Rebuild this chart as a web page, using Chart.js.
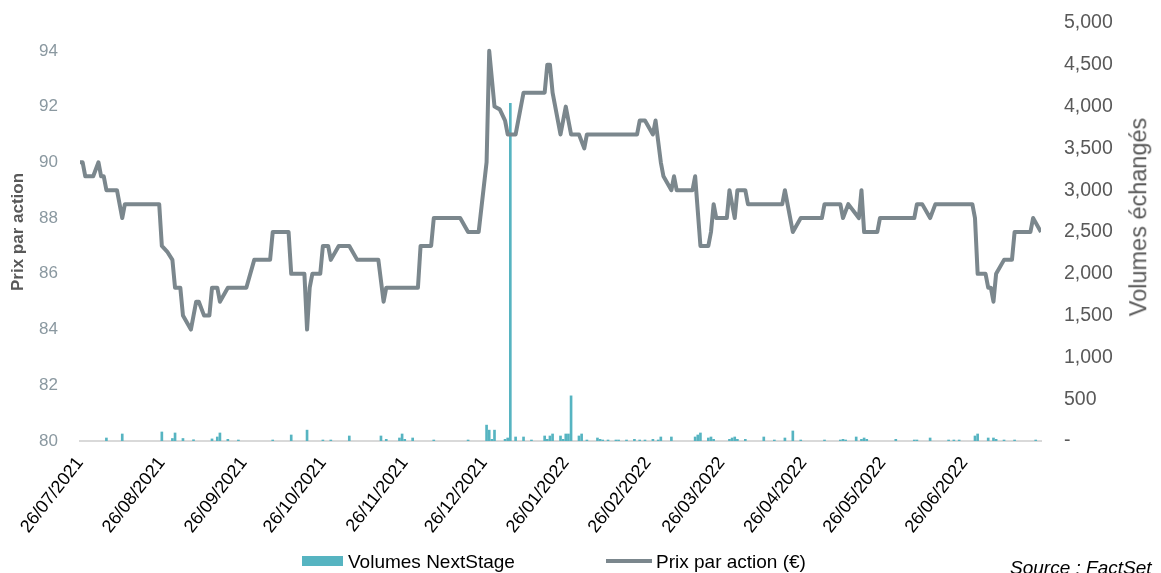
<!DOCTYPE html>
<html>
<head>
<meta charset="utf-8">
<script src="https://cdn.jsdelivr.net/npm/chart.js@4/dist/chart.umd.min.js"></script>
<style>
  body { margin: 0; background: #fff; font-family: 'Liberation Sans', Arial, sans-serif; }
  #wrap { position: relative; width: 1161px; height: 573px; overflow: hidden; }
  .txt { position: absolute; white-space: nowrap; line-height: 1; }
</style>
</head>
<body>
<div id="wrap">
  <canvas id="chart" width="1161" height="573"></canvas>
  <div class="txt" id="rightTitle" style="left:1139px; top:217px; transform:translate(-50%,-50%) rotate(-90deg); font-size:23.5px; color:#595959;">Volumes échangés</div>
  <div style="position:absolute; left:302px; top:556px; width:41px; height:10px; background:#56b4c1;"></div>
  <div class="txt" style="left:348px; top:552px; font-size:19px; color:#000;">Volumes NextStage</div>
  <div style="position:absolute; left:606px; top:559px; width:46px; height:4px; background:#7b878d;"></div>
  <div class="txt" style="left:656px; top:552px; font-size:19px; color:#000;">Prix par action (€)</div>
  <div class="txt" style="left:1010px; top:558px; font-size:19px; font-style:italic; color:#000;">Source : FactSet</div>
</div>
<script>
Chart.defaults.font.family = "'Liberation Sans', Arial, sans-serif";

// jours comptés depuis le 26/07/2021
const tickLabels = ['26/07/2021', '26/08/2021', '26/09/2021', '26/10/2021', '26/11/2021', '26/12/2021',
  '26/01/2022', '26/02/2022', '26/03/2022', '26/04/2022', '26/05/2022', '26/06/2022'];

const priceDays = [0, 1, 2, 5, 7, 8, 9, 10, 14, 16, 17, 30, 31, 33, 35, 36, 38, 39, 42, 44, 45, 47, 49, 50, 52, 53, 56,
  63, 66, 72, 73, 79, 80, 85, 86, 87, 88, 91, 92, 94, 95, 98, 102, 105, 113, 115, 116, 128, 129, 133, 134, 144, 147,
  151, 154, 155, 157, 159, 161, 162, 165, 168, 176, 177, 178, 179, 182, 184, 186, 189, 191, 192, 211, 212, 214, 217,
  218, 220, 221, 224, 225, 226, 232, 233, 235, 238, 239, 240, 241, 245, 246, 248, 249, 252, 253, 266, 267, 268, 270,
  273, 281, 282, 288, 289, 291, 295, 296, 297, 302, 303, 316, 317, 319, 322, 324, 338, 339, 340, 343, 344, 345, 346,
  347, 350, 353, 354, 360, 361, 364];
const priceValues = [90.0, 90.0, 89.5, 89.5, 90.0, 89.5, 89.5, 89.0, 89.0, 88.0, 88.5, 88.5, 87.0, 86.8, 86.5, 85.5, 85.5,
  84.5, 84.0, 85.0, 85.0, 84.5, 84.5, 85.5, 85.5, 85.0, 85.5,
  85.5, 86.5, 86.5, 87.5, 87.5, 86.0, 86.0, 84.0, 85.5, 86.0, 86.0, 87.0, 87.0, 86.5, 87.0, 87.0, 86.5, 86.5, 85.0,
  85.5, 85.5, 87.0, 87.0, 88.0, 88.0, 87.5,
  87.5, 90.0, 94.0, 92.0, 91.9, 91.5, 91.0, 91.0, 92.5, 92.5, 93.5, 93.5, 92.5, 91.0, 92.0, 91.0, 91.0, 90.5, 91.0,
  91.0, 91.5, 91.5, 91.0,
  91.5, 90.0, 89.5, 89.0, 89.5, 89.0, 89.0, 89.5, 87.0, 87.0, 87.5, 88.5, 88.0, 88.0, 89.0, 88.0, 89.0, 89.0, 88.5,
  88.5, 89.0, 88.5, 87.5,
  88.0, 88.0, 88.5, 88.5, 88.0, 88.5, 88.0, 89.0, 87.5, 87.5, 88.0, 88.0, 88.5, 88.5, 88.0, 88.5, 88.5, 88.0, 86.0,
  86.0, 85.5, 85.5, 85.0,
  86.0, 86.5, 86.5, 87.5, 87.5, 88.0, 87.5];

const volumeDays = [10, 16, 31, 35, 36, 39, 43, 50, 52, 53, 56, 60, 73, 80, 86, 92, 95, 102, 114, 116, 121, 122, 123,
  126, 134, 147, 154, 155, 156, 157, 161, 162, 163, 165, 168, 171, 176, 177, 178, 179, 182, 183, 184, 185, 186, 189,
  190, 192, 196, 197, 198, 200, 203, 204, 207, 210, 212, 214, 217, 219, 220, 224, 233, 234, 235, 238, 239, 240, 246,
  247, 248, 249, 252, 259, 263, 267, 270, 273, 282, 288, 289, 290, 294, 296, 297, 298, 309, 316, 317, 322, 329, 331,
  333, 339, 340, 344, 346, 347, 350, 354, 362];
const volumeValues = [36, 84, 108, 30, 96, 30, 15, 25, 48, 96, 20, 12, 12, 72, 130, 12, 12, 60, 60, 20, 36, 84, 20,
  36, 12, 12, 190, 130, 20, 130, 20, 36, 4040, 48, 48, 12, 60, 20, 60, 84, 60, 20, 84, 84, 540, 60,
  84, 12, 36, 20, 12, 12, 12, 12, 12, 20, 12, 12, 20, 12, 48, 48, 48, 72, 96, 36, 48, 20, 20,
  36, 48, 20, 20, 48, 12, 36, 120, 12, 12, 12, 20, 12, 48, 20, 36, 20, 20, 12, 12, 36, 12, 12,
  12, 60, 84, 36, 36, 20, 12, 12, 12];

const start = Date.UTC(2021, 6, 26);
const tickDays = tickLabels.map(s => {
  const [d, m, y] = s.split('/').map(Number);
  return Math.round((Date.UTC(y, m - 1, d) - start) / 86400000);
});

const noGrid = { display: false, drawTicks: false };

// fixed axis sizes so the plot area lands where the original one is
const fixWidth = (w) => (axis) => {
  axis.width = w;
  axis.paddingTop = 0;
  axis.paddingBottom = 0;
};

new Chart(document.getElementById('chart'), {
  type: 'bar',
  data: {
    datasets: [
      {
        type: 'line',
        label: 'Prix par action (€)',
        data: priceDays.map((d, i) => ({ x: d, y: priceValues[i] })),
        yAxisID: 'yPrice',
        borderColor: '#7b878d',
        borderWidth: 4,
        borderJoinStyle: 'round',
        pointRadius: 0,
        tension: 0,
        order: 0
      },
      {
        label: 'Volumes NextStage',
        data: volumeDays.map((d, i) => ({ x: d, y: volumeValues[i] })),
        yAxisID: 'yVol',
        backgroundColor: '#56b4c1',
        barThickness: 2,
        order: 1
      }
    ]
  },
  options: {
    responsive: false,
    animation: false,
    layout: { padding: { top: 23, left: 0, right: 0, bottom: 0 } },
    plugins: {
      legend: { display: false },
      tooltip: { enabled: false }
    },
    scales: {
      x: {
        type: 'linear',
        min: 0,
        max: 364,
        offset: false,
        grid: noGrid,
        border: { color: '#d9d9d9', width: 2 },
        afterBuildTicks: (axis) => { axis.ticks = tickDays.map(v => ({ value: v })); },
        afterFit: (axis) => { axis.height = 132; },
        ticks: {
          autoSkip: false,
          minRotation: 52,
          maxRotation: 52,
          padding: 12,
          color: '#000000',
          font: { size: 18 },
          callback: (value, index) => tickLabels[index]
        }
      },
      yPrice: {
        position: 'left',
        min: 80,
        max: 95,
        grid: noGrid,
        border: { display: false },
        afterFit: fixWidth(80),
        ticks: {
          stepSize: 2,
          includeBounds: false,
          padding: 22,
          color: '#8a98a0',
          font: { size: 17 }
        },
        title: {
          display: true,
          text: 'Prix par action',
          color: '#595959',
          font: { size: 17, weight: 'bold' },
          padding: { top: 8, bottom: 0 }
        }
      },
      yVol: {
        position: 'right',
        min: 0,
        max: 5000,
        grid: noGrid,
        border: { display: false },
        afterFit: fixWidth(120),
        ticks: {
          stepSize: 500,
          padding: 23,
          color: '#595959',
          font: { size: 19.5 },
          callback: (value) => value === 0 ? '-' : value.toLocaleString('en-US')
        }
      }
    }
  }
});
</script>
</body>
</html>
